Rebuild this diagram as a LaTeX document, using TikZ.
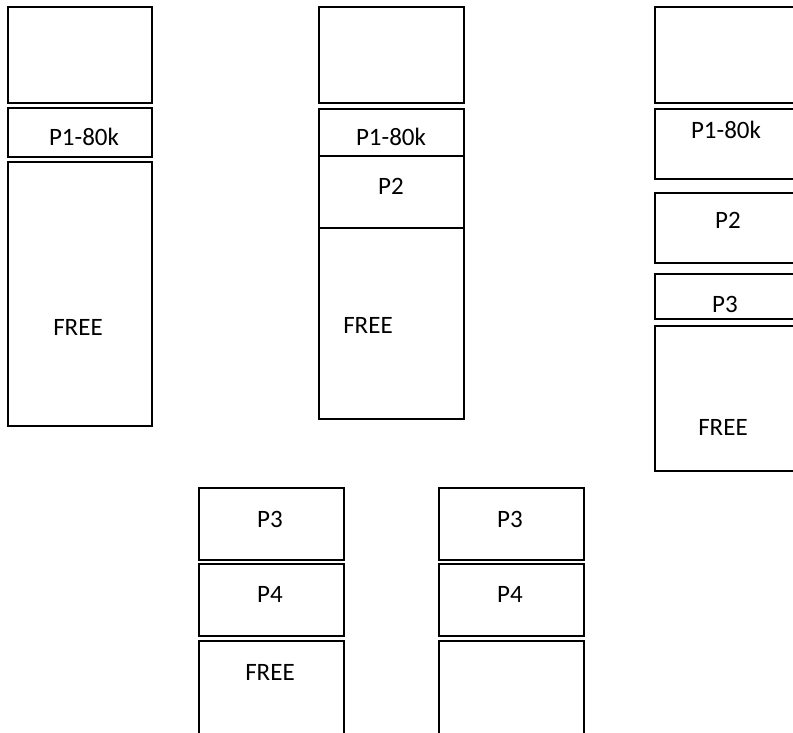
\documentclass[tikz,border=0pt]{standalone}
\usepackage{fontspec}
\setmainfont{Carlito}
\begin{document}
\begin{tikzpicture}[x=1pt,y=-1pt,
  box/.style={draw=black, line width=1.6pt, inner sep=0pt, anchor=north west, rectangle},
  lbl/.style={inner sep=0pt, anchor=base, font=\fontsize{25}{30}\selectfont}]
\useasboundingbox (0,0) rectangle (793,733);
\clip (0,0) rectangle (793,733);
% column 1
\node[box, minimum width=144pt, minimum height=96pt]  (a1) at (7,6) {};
\node[box, minimum width=144pt, minimum height=49pt]  (a2) at (7,107) {};
\node[box, minimum width=144pt, minimum height=264pt] (a3) at (7,161) {};
\node[lbl] (ta2) at (84,146) {P1-80k};
\node[lbl] (ta3) at (78,335) {FREE};
% column 2
\node[box, minimum width=145pt, minimum height=96pt]  (b1) at (318,6) {};
\node[box, minimum width=145pt, minimum height=47pt]  (b2) at (318,108) {};
\node[box, minimum width=145pt, minimum height=72pt]  (b3) at (318,155) {};
\node[box, minimum width=145pt, minimum height=191pt] (b4) at (318,227) {};
\node[lbl] (tb2) at (391,146) {P1-80k};
\node[lbl] (tb3) at (391,194) {P2};
\node[lbl] (tb4) at (368,333) {FREE};
% column 3
\node[box, minimum width=145pt, minimum height=96pt]  (c1) at (654,6) {};
\node[box, minimum width=145pt, minimum height=70pt]  (c2) at (654,108) {};
\node[box, minimum width=145pt, minimum height=70pt]  (c3) at (654,192) {};
\node[box, minimum width=145pt, minimum height=45pt]  (c4) at (654,273) {};
\node[box, minimum width=145pt, minimum height=145pt] (c5) at (654,325) {};
\node[lbl] (tc2) at (726,139) {P1-80k};
\node[lbl] (tc3) at (728,229) {P2};
\node[lbl] (tc4) at (725,312) {P3};
\node[lbl] (tc5) at (723,435) {FREE};
% bottom left
\node[box, minimum width=145pt, minimum height=72pt]  (d1) at (198,487) {};
\node[box, minimum width=145pt, minimum height=72pt]  (d2) at (198,563) {};
\node[box, minimum width=145pt, minimum height=110pt] (d3) at (198,640) {};
\node[lbl] (td1) at (270,527) {P3};
\node[lbl] (td2) at (270,602) {P4};
\node[lbl] (td3) at (270,680) {FREE};
% bottom right
\node[box, minimum width=145pt, minimum height=72pt]  (e1) at (438,487) {};
\node[box, minimum width=145pt, minimum height=72pt]  (e2) at (438,563) {};
\node[box, minimum width=145pt, minimum height=110pt] (e3) at (438,640) {};
\node[lbl] (te1) at (510,527) {P3};
\node[lbl] (te2) at (510,602) {P4};
\end{tikzpicture}
\end{document}
